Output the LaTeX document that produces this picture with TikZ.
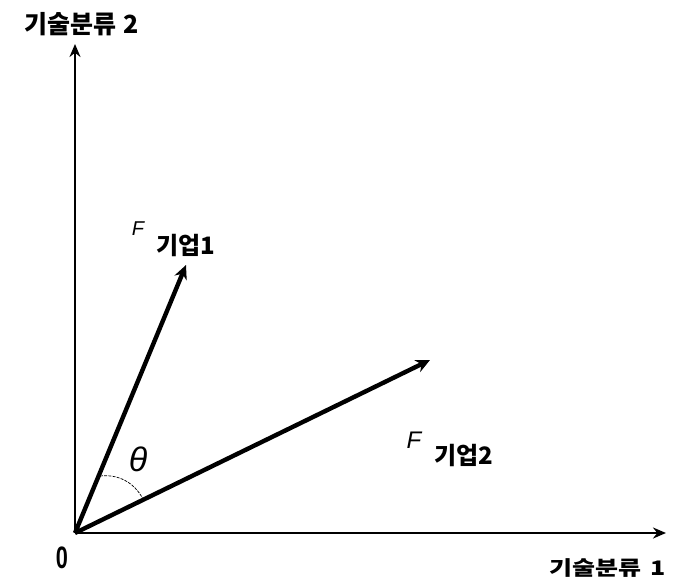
\documentclass[tikz,border=0pt]{standalone}
\usepackage{fontspec}
\setmainfont{Liberation Sans}
\newfontfamily\kr{Noto Sans CJK KR}
\usetikzlibrary{arrows.meta}
\begin{document}
\begin{tikzpicture}[x=1pt,y=-1pt,
  axis/.style={line width=2.2pt,-{Stealth[length=13pt,width=11pt]}},
  vec/.style={line width=4.4pt,-{Stealth[length=14pt,width=13pt]}},
  lbl/.style={inner sep=0pt,font=\kr\bfseries\fontsize{25}{28}\selectfont},
  sub/.style={inner sep=0pt,font=\kr\bfseries\fontsize{24}{26}\selectfont},
  fl/.style={inner sep=0pt,font=\itshape\fontsize{24}{26}\selectfont}]
\useasboundingbox (0,0) rectangle (674,586);
\coordinate (O) at (75,533);
\coordinate (Ytop) at (75,44);
\coordinate (Xend) at (666,533);
\coordinate (V1) at (186,265);
\coordinate (V2) at (430,360);
\coordinate (A1) at (100,476);
\coordinate (A2) at (143,499);
\draw[axis] (O) -- (Ytop);
\draw[axis] (O) -- (Xend);
\draw[vec] (O) -- (V1);
\draw[vec] (O) -- (V2);
\draw[line width=0.7pt,dash pattern=on 3pt off 1.2pt] (A1) .. controls (118,474) and (134,482) .. (A2);
\node[lbl] (yl) at (82,24) {기술분류\kern7pt 2};
\node[lbl,yscale=0.8] (xl) at (608,568) {기술분류\kern9pt 1};
\node[inner sep=0pt,xscale=0.7,font=\bfseries\fontsize{31}{34}\selectfont] (zero) at (62,558) {0};
\node[inner sep=0pt,font=\itshape\fontsize{34}{38}\selectfont] (th) at (138,459) {θ};
\node[fl,font=\itshape\fontsize{20}{22}\selectfont] (f1) at (138,228.5) {F};
\node[sub] (s1) at (186,245) {기업1};
\node[fl] (f2) at (414,440) {F};
\node[sub] (s2) at (464,455) {기업2};
\end{tikzpicture}
\end{document}
